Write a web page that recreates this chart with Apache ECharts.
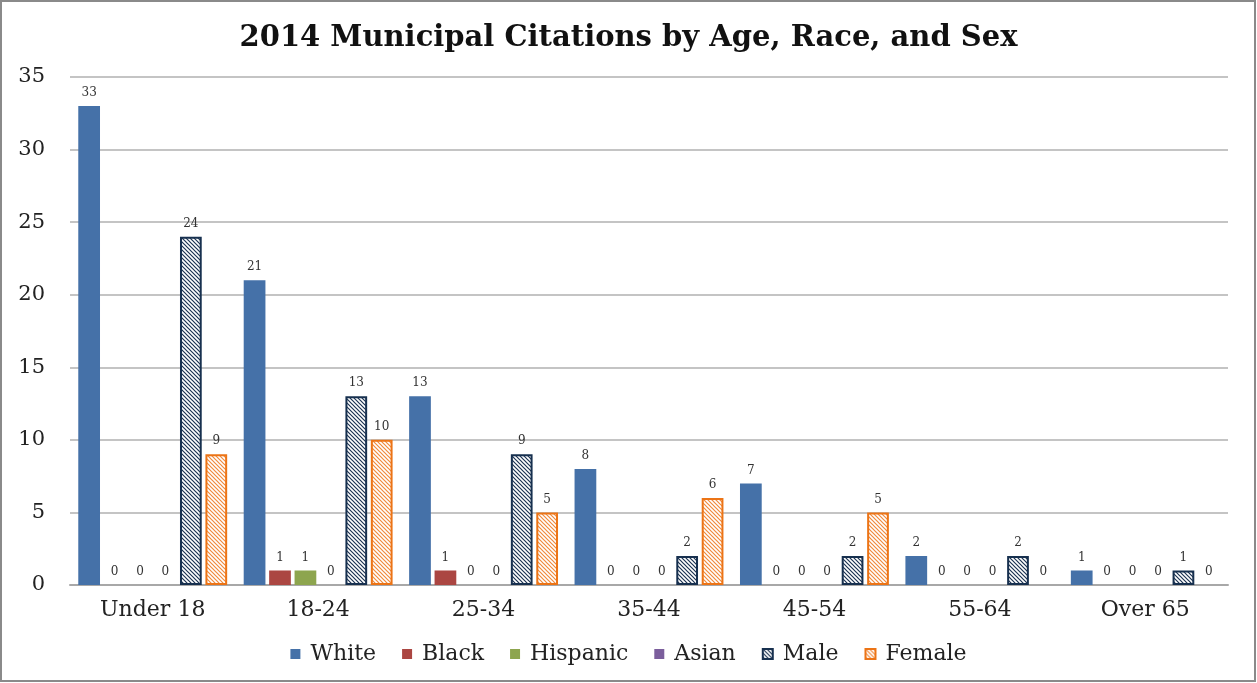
<!DOCTYPE html>
<html>
<head>
<meta charset="utf-8">
<script src="https://cdn.jsdelivr.net/npm/echarts@6/dist/echarts.min.js"></script>
<style>
  html, body { margin: 0; padding: 0; background: #fff; }
  #chart { width: 1257px; height: 683px; }
</style>
</head>
<body>
<div id="chart"></div>
<script>
// categories and values
const ageGroups = ['Under 18', '18-24', '25-34', '35-44', '45-54', '55-64', 'Over 65'];
const white = [33, 21, 13, 8, 7, 2, 1];
const black = [0, 1, 1, 0, 0, 0, 0];
const hispanic = [0, 1, 0, 0, 0, 0, 0];
const asian = [0, 0, 0, 0, 0, 0, 0];
const male = [24, 13, 9, 2, 2, 2, 1];
const female = [9, 10, 5, 6, 5, 0, 0];

const serif = '"DejaVu Serif", "Liberation Serif", serif';

// diagonal hatch fill, like the office pattern fill
function hatch(color) {
    const s = 4;
    const c = document.createElement('canvas');
    c.width = s; c.height = s;
    const ctx = c.getContext('2d');
    ctx.fillStyle = '#fff';
    ctx.fillRect(0, 0, s, s);
    ctx.strokeStyle = color;
    ctx.lineWidth = 1.2;
    ctx.beginPath();
    ctx.moveTo(-1, -1); ctx.lineTo(s + 1, s + 1);
    ctx.moveTo(-1, s - 1); ctx.lineTo(1, s + 1);
    ctx.moveTo(s - 1, -1); ctx.lineTo(s + 1, 1);
    ctx.stroke();
    return { image: c, repeat: 'repeat' };
}

const chart = echarts.init(document.getElementById('chart'));

const label = {
    show: true,
    position: 'top',
    distance: 7,
    fontFamily: serif,
    fontSize: 12,
    color: '#333'
};

// zero bars get no outline, so no stray line sits on the axis
function bar(name, data, itemStyle) {
    return {
        name: name, type: 'bar', itemStyle: itemStyle, label: label,
        barGap: '17%', barCategoryGap: '10%',
        data: data.map(v => v === 0 ? { value: v, itemStyle: { borderWidth: 0 } } : v)
    };
}

const option = {
    backgroundColor: '#fff',
    animation: false,
    title: {
        text: '2014 Municipal Citations by Age, Race, and Sex',
        left: 'center',
        top: 19,
        textStyle: { fontFamily: serif, fontWeight: 'bold', fontSize: 29, color: '#111' }
    },
    legend: {
        bottom: 13,
        left: 'center',
        icon: 'rect',
        itemWidth: 10,
        itemHeight: 10,
        itemGap: 26,
        textStyle: { fontFamily: serif, fontSize: 22, color: '#222', padding: [0, 0, 0, 5] }
    },
    grid: { left: 70, right: 29, top: 77, bottom: 98, containLabel: false },
    xAxis: {
        type: 'category',
        data: ageGroups,
        axisTick: { show: false },
        axisLine: { lineStyle: { color: '#a8a8a8', width: 2 } },
        axisLabel: { fontFamily: serif, fontSize: 22, color: '#222', margin: 14 }
    },
    yAxis: {
        type: 'value',
        min: 0,
        max: 35,
        interval: 5,
        axisLine: { show: false },
        axisTick: { show: false },
        splitLine: { lineStyle: { color: '#b0b0b0', width: 1.5 } },
        axisLabel: { fontFamily: serif, fontSize: 21, color: '#222', margin: 25 }
    },
    series: [
        bar('White', white, { color: '#4571a8' }),
        bar('Black', black, { color: '#ab4642' }),
        bar('Hispanic', hispanic, { color: '#8da54e' }),
        bar('Asian', asian, { color: '#7b5e9c' }),
        bar('Male', male, { color: hatch('#1c3352'), borderColor: '#17304f', borderWidth: 2 }),
        bar('Female', female, { color: hatch('#f08a3c'), borderColor: '#ec7416', borderWidth: 2 })
    ],
    graphic: [{
        type: 'rect',
        shape: { x: 1, y: 1, width: 1254, height: 680 },
        style: { fill: null, stroke: '#8a8a8a', lineWidth: 2 },
        silent: true
    }]
};

chart.setOption(option);
</script>
</body>
</html>
